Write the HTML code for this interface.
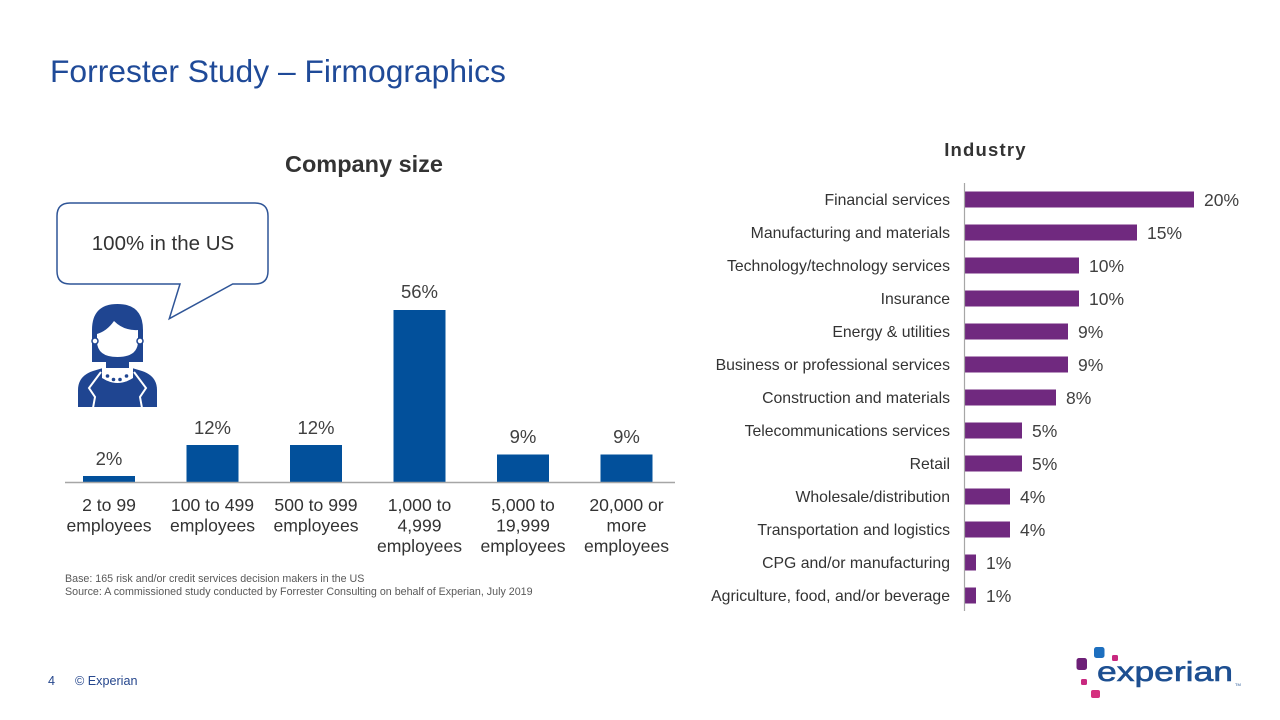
<!DOCTYPE html>
<html>
<head>
<meta charset="utf-8">
<style>
  html, body { margin: 0; padding: 0; background: #ffffff; }
  body { width: 1280px; height: 720px; overflow: hidden; }
  svg { display: block; }
  text { font-family: "Liberation Sans", Arial, sans-serif; }
</style>
</head>
<body>
<svg width="1280" height="720" viewBox="0 0 1280 720" xmlns="http://www.w3.org/2000/svg">
  <rect width="1280" height="720" fill="#ffffff"/>

  <!-- Title -->
  <text x="50" y="82" font-size="31.8" fill="#1f4a98">Forrester Study – Firmographics</text>

  <!-- Company size heading -->
  <text x="364" y="172" font-size="23.5" font-weight="bold" fill="#333333" text-anchor="middle">Company size</text>

  <!-- Speech bubble -->
  <path d="M70,203 L255,203 Q268,203 268,216 L268,271 Q268,284 255,284 L232.7,284 L169.3,318.7 L180,284 L70,284 Q57,284 57,271 L57,216 Q57,203 70,203 Z"
        fill="#ffffff" stroke="#2f5597" stroke-width="1.5" stroke-linejoin="miter"/>
  <text x="163" y="250" font-size="20.5" fill="#333333" text-anchor="middle">100% in the US</text>

  <!-- Person icon -->
  <g fill="#1f4591">
    <path d="M92,362 L92,330 Q92,304 117.5,304 Q143,304 143,330 L143,362 Z"/>
    <rect x="106" y="350" width="23" height="20"/>
    <path d="M78,407 L78,390 Q78,376 93,371 L103,368 L132,368 L142,371 Q157,376 157,390 L157,407 Z"/>
  </g>
  <path d="M97,334 Q107,331 114,321 Q124,331 138,330 L138,341 Q138,357 117.5,357 Q97,357 97,341 Z" fill="#ffffff"/>
  <circle cx="95" cy="341" r="3" fill="#ffffff" stroke="#1f4591" stroke-width="1.5"/>
  <circle cx="140" cy="341" r="3" fill="#ffffff" stroke="#1f4591" stroke-width="1.5"/>
  <path d="M102,368 L133,368 L133,378 Q117.5,388 102,378 Z" fill="#ffffff"/>
  <g fill="#1f4591">
    <circle cx="107.5" cy="376" r="1.8"/>
    <circle cx="113.5" cy="379.5" r="1.8"/>
    <circle cx="120" cy="379.5" r="1.8"/>
    <circle cx="126.5" cy="376" r="1.8"/>
  </g>
  <polyline points="101,372 89,388 95,397 93,408" fill="none" stroke="#ffffff" stroke-width="2"/>
  <polyline points="134,372 146,388 140,397 142,408" fill="none" stroke="#ffffff" stroke-width="2"/>

  <!-- Left bar chart -->
  <g fill="#02509b">
    <rect x="83" y="476" width="52" height="6"/>
    <rect x="186.5" y="445" width="52" height="37"/>
    <rect x="290" y="445" width="52" height="37"/>
    <rect x="393.5" y="310" width="52" height="172"/>
    <rect x="497" y="454.5" width="52" height="27.5"/>
    <rect x="600.5" y="454.5" width="52" height="27.5"/>
  </g>
  <line x1="65" y1="482.5" x2="675" y2="482.5" stroke="#a6a6a6" stroke-width="1.5"/>

  <g font-size="18.5" fill="#404040" text-anchor="middle">
    <text x="109" y="465">2%</text>
    <text x="212.5" y="434">12%</text>
    <text x="316" y="434">12%</text>
    <text x="419.5" y="298">56%</text>
    <text x="523" y="443">9%</text>
    <text x="626.5" y="443">9%</text>
  </g>

  <g font-size="17.6" fill="#333333" text-anchor="middle">
    <text x="109" y="511">2 to 99</text>
    <text x="109" y="531.5">employees</text>
    <text x="212.5" y="511">100 to 499</text>
    <text x="212.5" y="531.5">employees</text>
    <text x="316" y="511">500 to 999</text>
    <text x="316" y="531.5">employees</text>
    <text x="419.5" y="511">1,000 to</text>
    <text x="419.5" y="531.5">4,999</text>
    <text x="419.5" y="552">employees</text>
    <text x="523" y="511">5,000 to</text>
    <text x="523" y="531.5">19,999</text>
    <text x="523" y="552">employees</text>
    <text x="626.5" y="511">20,000 or</text>
    <text x="626.5" y="531.5">more</text>
    <text x="626.5" y="552">employees</text>
  </g>

  <g font-size="10.7" fill="#595959">
    <text x="65" y="582">Base: 165 risk and/or credit services decision makers in the US</text>
    <text x="65" y="595">Source: A commissioned study conducted by Forrester Consulting on behalf of Experian, July 2019</text>
  </g>

  <!-- Industry chart -->
  <text x="985.5" y="156" font-size="18.5" font-weight="bold" fill="#333333" text-anchor="middle" letter-spacing="1.2">Industry</text>

  <g fill="#70297f">
    <rect x="965" y="191.5" width="229" height="16"/>
    <rect x="965" y="224.5" width="172" height="16"/>
    <rect x="965" y="257.5" width="114" height="16"/>
    <rect x="965" y="290.5" width="114" height="16"/>
    <rect x="965" y="323.5" width="103" height="16"/>
    <rect x="965" y="356.5" width="103" height="16"/>
    <rect x="965" y="389.5" width="91" height="16"/>
    <rect x="965" y="422.5" width="57" height="16"/>
    <rect x="965" y="455.5" width="57" height="16"/>
    <rect x="965" y="488.5" width="45" height="16"/>
    <rect x="965" y="521.5" width="45" height="16"/>
    <rect x="965" y="554.5" width="11" height="16"/>
    <rect x="965" y="587.5" width="11" height="16"/>
  </g>
  <line x1="964.5" y1="183" x2="964.5" y2="611" stroke="#a6a6a6" stroke-width="1.2"/>

  <g font-size="15.8" fill="#333333" text-anchor="end">
    <text x="950" y="205">Financial services</text>
    <text x="950" y="238">Manufacturing and materials</text>
    <text x="950" y="271">Technology/technology services</text>
    <text x="950" y="304">Insurance</text>
    <text x="950" y="337">Energy &amp; utilities</text>
    <text x="950" y="370">Business or professional services</text>
    <text x="950" y="403">Construction and materials</text>
    <text x="950" y="436">Telecommunications services</text>
    <text x="950" y="469">Retail</text>
    <text x="950" y="502">Wholesale/distribution</text>
    <text x="950" y="535">Transportation and logistics</text>
    <text x="950" y="568">CPG and/or manufacturing</text>
    <text x="950" y="601">Agriculture, food, and/or beverage</text>
  </g>

  <g font-size="17.5" fill="#404040">
    <text x="1204" y="206">20%</text>
    <text x="1147" y="239">15%</text>
    <text x="1089" y="272">10%</text>
    <text x="1089" y="305">10%</text>
    <text x="1078" y="338">9%</text>
    <text x="1078" y="371">9%</text>
    <text x="1066" y="404">8%</text>
    <text x="1032" y="437">5%</text>
    <text x="1032" y="470">5%</text>
    <text x="1020" y="503">4%</text>
    <text x="1020" y="536">4%</text>
    <text x="986" y="569">1%</text>
    <text x="986" y="602">1%</text>
  </g>

  <!-- Footer -->
  <g font-size="12.6" fill="#26478d">
    <text x="48" y="685">4</text>
    <text x="75" y="685">© Experian</text>
  </g>

  <!-- Experian logo -->
  <rect x="1076.5" y="658" width="10.5" height="12" rx="2.5" fill="#6d2077"/>
  <rect x="1094" y="647" width="10.5" height="11" rx="2.5" fill="#1d6fbf"/>
  <rect x="1112" y="655" width="6" height="6" rx="1.5" fill="#c8287f"/>
  <rect x="1081" y="679" width="6" height="6" rx="1.5" fill="#c8287f"/>
  <rect x="1091" y="690" width="9" height="8" rx="2" fill="#d5307f"/>
  <text x="1097" y="681" font-size="28" fill="#1d4f91" stroke="#1d4f91" stroke-width="0.6" textLength="136" lengthAdjust="spacingAndGlyphs">experian</text>
  <text x="1235" y="686" font-size="4" fill="#1d4f91">TM</text>
</svg>
</body>
</html>
